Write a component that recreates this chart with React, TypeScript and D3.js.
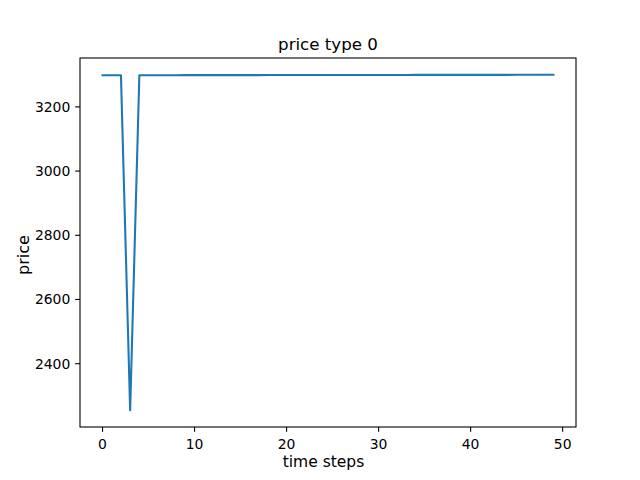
import React from "react";
import * as d3 from "d3";

const timeSteps: number[] = Array.from({ length: 50 }, (_, i) => i);
const prices: number[] = [
  3298.5, 3298.5, 3298.5, 2255.0, 3298.6, 3298.6, 3298.7, 3298.7, 3298.7, 3298.8,
  3298.8, 3298.8, 3298.9, 3298.9, 3298.9, 3299.0, 3299.0, 3299.0, 3299.1, 3299.1,
  3299.1, 3299.2, 3299.2, 3299.2, 3299.3, 3299.3, 3299.3, 3299.4, 3299.4, 3299.4,
  3299.5, 3299.5, 3299.5, 3299.5, 3299.6, 3299.6, 3299.6, 3299.7, 3299.7, 3299.7,
  3299.7, 3299.8, 3299.8, 3299.8, 3299.8, 3299.9, 3299.9, 3299.9, 3300.0, 3300.0,
];
const xTicks: number[] = [0, 10, 20, 30, 40, 50];
const yTicks: number[] = [2400, 2600, 2800, 3000, 3200];
const titleText = "price type 0";
const xLabelText = "time steps";
const yLabelText = "price";

const W = 640;
const H = 480;
const left = 80;
const right = 576;
const top = 58;
const bottom = 427;
const font = "DejaVu Sans, sans-serif";

export default function App() {
  const [x0, x1] = d3.extent(timeSteps) as [number, number];
  const [y0, y1] = d3.extent(prices) as [number, number];
  const xm = (x1 - x0) * 0.05;
  const ym = (y1 - y0) * 0.05;
  const x = d3.scaleLinear().domain([x0 - xm, x1 + xm]).range([left, right]);
  const y = d3.scaleLinear().domain([y0 - ym, y1 + ym]).range([bottom, top]);
  const line = d3
    .line<number>()
    .x((_, i) => x(timeSteps[i]))
    .y((d) => y(d));
  const tickLen = 4.86;

  return (
    <svg
      width={W}
      height={H}
      style={{ position: "absolute", left: 0, top: 0, background: "#fff" }}
      fontFamily={font}
    >
      <rect x={0} y={0} width={W} height={H} fill="#fff" />
      <path d={line(prices) || ""} fill="none" stroke="#1f77b4" strokeWidth={2.08} strokeLinejoin="round" strokeLinecap="square" />
      <rect x={left} y={top} width={right - left} height={bottom - top} fill="none" stroke="#000" strokeWidth={1.1} />
      {xTicks.map((t) => (
        <g key={"x" + t}>
          <line x1={x(t)} x2={x(t)} y1={bottom} y2={bottom + tickLen} stroke="#000" strokeWidth={1.1} />
          <text x={x(t)} y={448.5} textAnchor="middle" fontSize={13.9} fill="#000">
            {t}
          </text>
        </g>
      ))}
      {yTicks.map((t) => (
        <g key={"y" + t}>
          <line x1={left - tickLen} x2={left} y1={y(t)} y2={y(t)} stroke="#000" strokeWidth={1.1} />
          <text x={70.3} y={y(t) + 5} textAnchor="end" fontSize={13.9} fill="#000">
            {t}
          </text>
        </g>
      ))}
      <text x={(left + right) / 2} y={49.7} textAnchor="middle" fontSize={16.67} fill="#000">
        {titleText}
      </text>
      <text x={323.5} y={466.7} textAnchor="middle" fontSize={15.5} fill="#000">
        {xLabelText}
      </text>
      <text
        transform={`translate(28.5, 255) rotate(-90)`}
        textAnchor="middle"
        fontSize={16}
        fill="#000"
      >
        {yLabelText}
      </text>
    </svg>
  );
}
